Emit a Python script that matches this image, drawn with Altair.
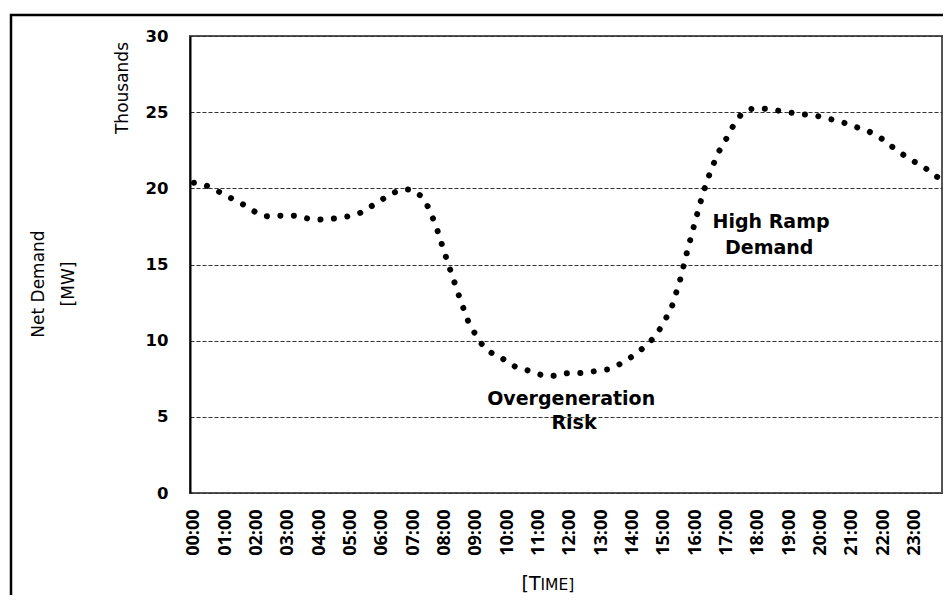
import altair as alt
import pandas as pd

# ---- data -------------------------------------------------------------
hour_labels = ["00:00", "01:00", "02:00", "03:00", "04:00", "05:00", "06:00", "07:00",
               "08:00", "09:00", "10:00", "11:00", "12:00", "13:00", "14:00", "15:00",
               "16:00", "17:00", "18:00", "19:00", "20:00", "21:00", "22:00", "23:00"]

# quarter-hour time stamps (hours after midnight)
quarter_hours = [i / 4 for i in range(96)]

# net demand, thousands of MW at 15-minute steps
net_demand_k = [
    20.36, 20.30, 20.10, 19.83, 19.56, 19.28, 19.02, 18.74,   # 00:00-01:45
    18.38, 18.18, 18.15, 18.20, 18.22, 18.20, 18.08, 17.96,   # 02:00-03:45
    17.95, 17.97, 18.02, 18.10, 18.18, 18.33, 18.58, 18.95,   # 04:00-05:45
    19.25, 19.60, 19.82, 19.94, 19.88, 19.49, 18.70, 17.38,   # 06:00-07:45
    15.76, 14.22, 12.70, 11.29, 10.35, 9.58, 9.19, 9.00,      # 08:00-09:45
    8.58, 8.30, 8.15, 7.98, 7.80, 7.66, 7.70, 7.84,           # 10:00-11:45
    7.87, 7.86, 7.90, 7.98, 8.05, 8.12, 8.35, 8.66,           # 12:00-13:45
    8.98, 9.38, 9.80, 10.36, 11.20, 12.22, 13.85, 15.92,      # 14:00-15:45
    17.85, 19.70, 21.20, 22.40, 23.29, 24.25, 24.95, 25.20,   # 16:00-17:45
    25.27, 25.22, 25.15, 25.07, 24.98, 24.90, 24.85, 24.80,   # 18:00-19:45
    24.70, 24.57, 24.45, 24.30, 24.10, 23.95, 23.78, 23.50,   # 20:00-21:45
    23.20, 22.78, 22.40, 22.05, 21.74, 21.45, 21.10, 20.70,   # 22:00-23:45
]

y_ticks = [0, 5, 10, 15, 20, 25, 30]

ann_text = ["High Ramp", "Demand", "Overgeneration", "Risk"]
ann_hour = [18.42, 18.36, 12.04, 12.13]
ann_value = [17.78, 16.08, 6.17, 4.59]

df = pd.DataFrame({"hour": quarter_hours, "demand": net_demand_k})
ann_df = pd.DataFrame({"hour": ann_hour, "demand": ann_value, "label": ann_text})
one = pd.DataFrame({"k": [0]})

label_expr = "[" + ",".join("'" + s + "'" for s in hour_labels) + "][datum.value]"

x_scale = alt.Scale(domain=[-0.125, 23.875], nice=False, zero=False)
y_scale = alt.Scale(domain=[0, 30], nice=False)

x_axis = alt.Axis(values=list(range(24)), labelExpr=label_expr, labelAngle=270,
                  title=None, grid=False, ticks=False, tickSize=0, domain=False,
                  labelFont="Open Sans", labelFontWeight="bold", labelFontSize=18,
                  labelColor="black", labelPadding=16, labelOverlap=False,
                  labelBound=False, labelFlush=False)
y_axis = alt.Axis(values=y_ticks, title=None, ticks=False, tickSize=0,
                  domainColor="black", domainWidth=2,
                  grid=True, gridColor="#333333", gridDash=[4, 2], gridWidth=1,
                  labelFont="DejaVu Sans", labelFontWeight="bold", labelFontSize=16.5,
                  labelColor="black", labelPadding=22, labelOverlap=False)

x_enc = alt.X("hour:Q", scale=x_scale, axis=x_axis)
y_enc = alt.Y("demand:Q", scale=y_scale, axis=y_axis)

line = alt.Chart(df).mark_line(
    color="black", strokeWidth=6, strokeDash=[0.01, 13.5], strokeCap="round"
).encode(x=x_enc, y=y_enc)

ann = alt.Chart(ann_df).mark_text(
    font="DejaVu Sans", fontWeight="bold", fontSize=19, color="black",
    align="center", baseline="middle"
).encode(x=x_enc, y=y_enc, text="label:N")

def px_text(txt, x, y, size, angle=0, weight="normal", align="center", baseline="middle"):
    return alt.Chart(one).mark_text(
        font="DejaVu Sans", fontSize=size, fontWeight=weight, color="black",
        angle=angle, align=align, baseline=baseline
    ).encode(x=alt.value(x), y=alt.value(y), text=alt.value(txt))

# plot area origin is at page (190, 36)
t_nd = px_text("Net Demand", 38.5 - 190, 284 - 36, 17, angle=270)
t_mw = px_text("[MW]", 68.5 - 190, 284 - 36, 17, angle=270)
t_th = px_text("Thousands", 123 - 190, 88 - 36, 17, angle=270)
t_time1 = px_text("[T", 540.5 - 190, 590 - 36, 19, align="right", baseline="alphabetic")
t_time2 = px_text("IME]", 540.5 - 190, 590 - 36, 15.5, align="left", baseline="alphabetic")

frame = alt.Chart(one).mark_rect(
    fillOpacity=0, stroke="black", strokeWidth=2.5
).encode(x=alt.value(11 - 190), x2=alt.value(900), y=alt.value(15 - 36), y2=alt.value(700))

chart = alt.layer(
    line, ann, t_nd, t_mw, t_th, t_time1, t_time2, frame
).properties(
    width=752, height=457,
    autosize=alt.AutoSizeParams(type="none"),
    padding={"left": 182, "top": 28, "right": 1, "bottom": 102},
    background="white",
).configure_view(
    stroke="#555555", strokeWidth=2
)

chart.save("out.html", embed_options={"renderer": "svg", "actions": False})
